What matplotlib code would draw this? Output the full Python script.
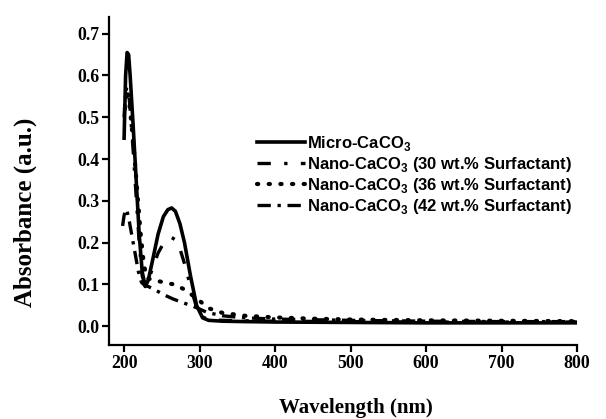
import numpy as np
import matplotlib.pyplot as plt

# Spectres (longueur d'onde en nm, absorbance)
wl_micro = [200, 202, 204, 206, 208, 212, 216, 220, 224, 228, 232, 238, 245, 252, 258, 263,
            268, 274, 280, 288, 296, 304, 312, 330, 360, 400, 500, 600, 700, 800]
abs_micro = [0.45, 0.60, 0.655, 0.65, 0.60, 0.48, 0.35, 0.22, 0.13, 0.095, 0.11, 0.16, 0.22,
             0.262, 0.279, 0.283, 0.275, 0.245, 0.20, 0.12, 0.05, 0.02, 0.014, 0.012, 0.011,
             0.010, 0.009, 0.008, 0.008, 0.008]

wl_nano30 = [200, 202, 204, 206, 208, 212, 216, 220, 224, 228, 232, 238, 245, 252, 258, 263,
             268, 274, 280, 288, 296, 304, 312, 330, 360, 400, 500, 600, 700, 800]
abs_nano30 = [0.50, 0.56, 0.575, 0.56, 0.52, 0.42, 0.31, 0.20, 0.12, 0.10, 0.11, 0.14, 0.175,
              0.198, 0.208, 0.212, 0.207, 0.185, 0.15, 0.095, 0.045, 0.022, 0.016, 0.014,
              0.013, 0.012, 0.011, 0.010, 0.010, 0.010]

wl_nano36 = [201, 203, 206, 210, 214, 218, 222, 226, 230, 236, 245, 255, 266, 280, 295, 312,
             330, 360, 400, 450, 500, 600, 700, 800]
abs_nano36 = [0.52, 0.565, 0.55, 0.48, 0.40, 0.31, 0.22, 0.15, 0.115, 0.112, 0.108, 0.104,
              0.10, 0.088, 0.068, 0.043, 0.032, 0.025, 0.021, 0.018, 0.016, 0.014, 0.013, 0.012]

wl_nano42 = [198, 200, 202, 204, 207, 211, 215, 219, 223, 227, 232, 240, 253, 265, 280, 295,
             310, 330, 360, 400, 500, 600, 700, 800]
abs_nano42 = [0.24, 0.265, 0.28, 0.275, 0.25, 0.21, 0.17, 0.13, 0.105, 0.098, 0.095, 0.088,
              0.075, 0.065, 0.055, 0.045, 0.033, 0.025, 0.02, 0.017, 0.014, 0.012, 0.011, 0.011]

x_ticks = [200, 300, 400, 500, 600, 700, 800]
y_ticks = [0.0, 0.1, 0.2, 0.3, 0.4, 0.5, 0.6, 0.7]

labels = [r'Micro-CaCO$_\mathbf{3}$',
          r'Nano-CaCO$_\mathbf{3}$ (30 wt.% Surfactant)',
          r'Nano-CaCO$_\mathbf{3}$ (36 wt.% Surfactant)',
          r'Nano-CaCO$_\mathbf{3}$ (42 wt.% Surfactant)']

plt.rcParams['mathtext.fontset'] = 'custom'
plt.rcParams['mathtext.bf'] = 'Liberation Sans:bold'

fig = plt.figure(figsize=(6.06, 4.19), dpi=100)
ax = fig.add_axes([109 / 606, 1 - 345 / 419, (577 - 109) / 606, (345 - 17) / 419])

ax.plot(wl_micro, abs_micro, color='black', lw=2.6, ls='-', label=labels[0])
ax.plot(wl_nano30, abs_nano30, color='black', lw=2.4, ls=(0, (4, 4, 1, 4)), label=labels[1])
ax.plot(wl_nano36, abs_nano36, color='black', lw=3.0, ls=(0, (0.3, 2.5)),
        dash_capstyle='round', label=labels[2])
ax.plot(wl_nano42, abs_nano42, color='black', lw=2.4, ls=(0, (4, 2, 1, 2)), label=labels[3])

ax.set_xlim(180, 800)
ax.set_ylim(-0.045, 0.74)
ax.set_xticks(x_ticks)
ax.set_yticks(y_ticks)
ax.set_yticklabels([f'{v:.1f}' for v in y_ticks])

for s in ['top', 'right']:
    ax.spines[s].set_visible(False)
for s in ['left', 'bottom']:
    ax.spines[s].set_linewidth(1.6)

ax.tick_params(direction='out', length=5, width=1.6, pad=2)
for lab in ax.get_xticklabels() + ax.get_yticklabels():
    lab.set_fontfamily('Liberation Serif')
    lab.set_fontweight('bold')
    lab.set_fontsize(12.8)

ax.set_xlabel('Wavelength (nm)', family='Liberation Serif', fontweight='bold', fontsize=15)
ax.set_ylabel('Absorbance (a.u.)', family='Liberation Serif', fontweight='bold', fontsize=18)
ax.xaxis.set_label_coords((356 - 109) / 468, -(398 - 345) / 328)
ax.yaxis.set_label_coords(-(109 - 37) / 468, (345 - 212) / 328)

leg = ax.legend(loc='upper left', bbox_to_anchor=((257 - 109) / 468, (345 - 134) / 328),
                frameon=False,
                prop={'family': 'Liberation Sans', 'weight': 'bold', 'size': 12},
                handlelength=2.9, handletextpad=0.1, labelspacing=0.12,
                borderpad=0, borderaxespad=0)

fig.savefig('out.png', dpi=100)
